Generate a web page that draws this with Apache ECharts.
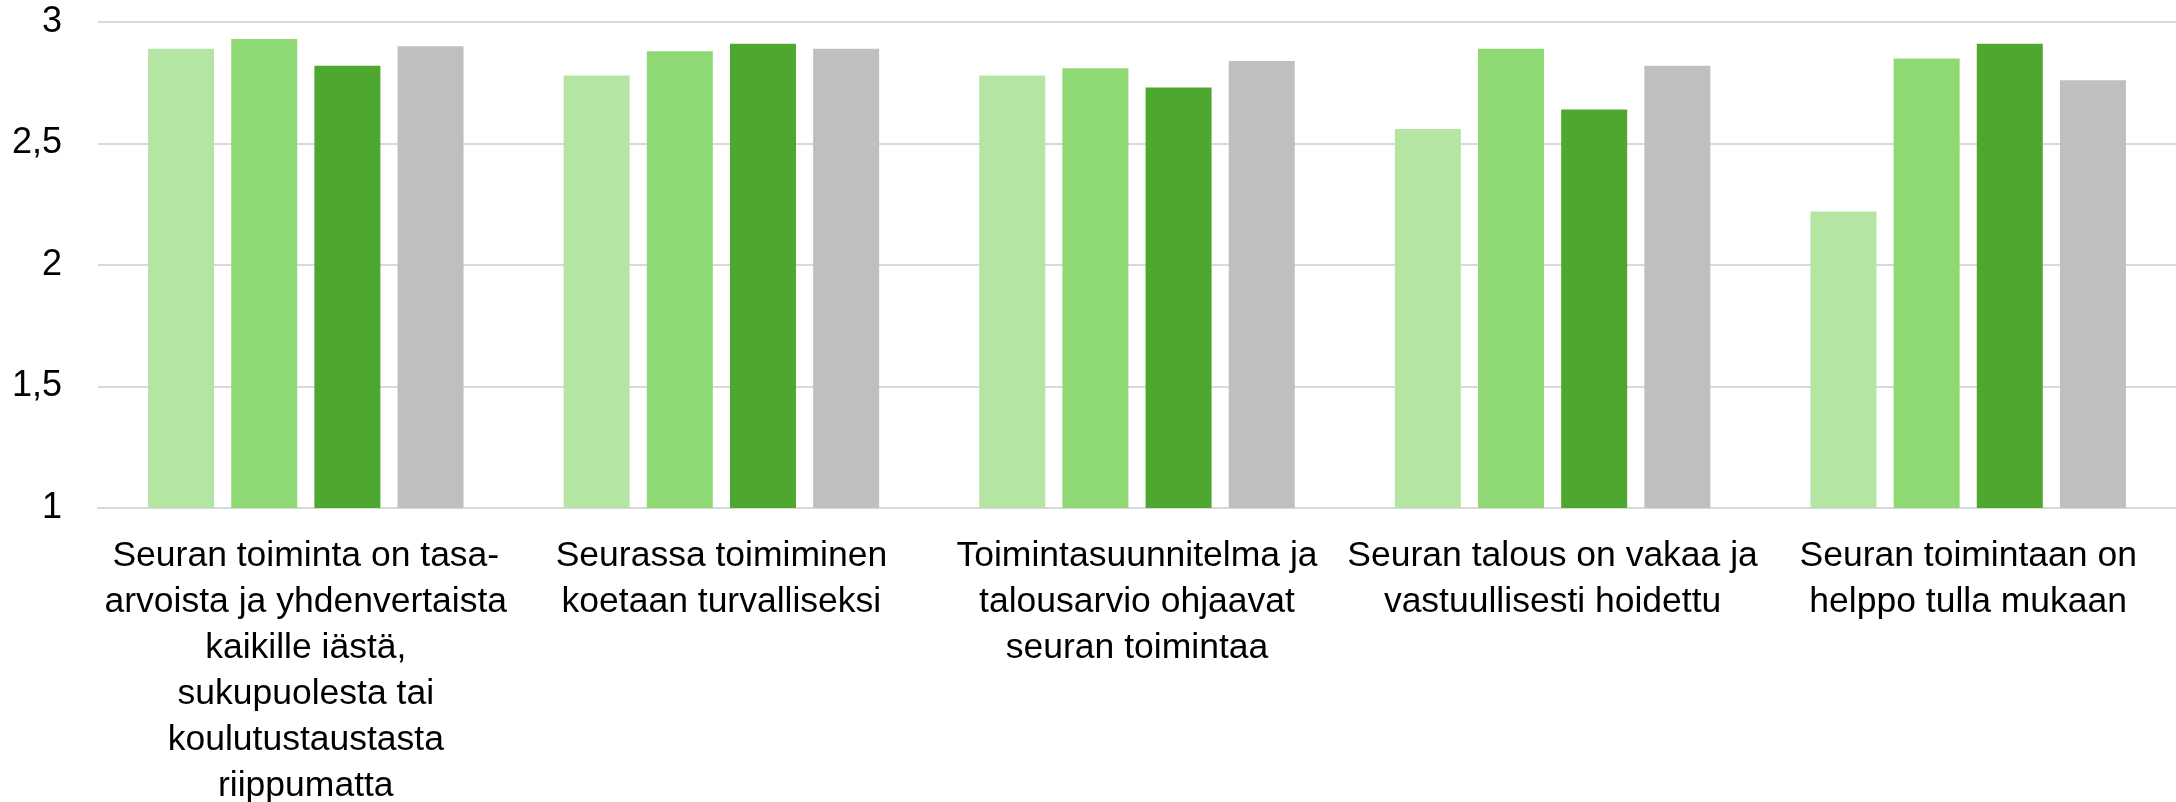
<!DOCTYPE html>
<html>
<head>
<meta charset="utf-8">
<script src="https://cdn.jsdelivr.net/npm/echarts@6/dist/echarts.min.js"></script>
<style>
  html, body { margin: 0; padding: 0; background: #fff; }
  #chart { width: 2176px; height: 802px; }
</style>
</head>
<body>
<div id="chart"></div>
<script>
const categories = [
  'Seuran toiminta on tasa-\narvoista ja yhdenvertaista\nkaikille iästä,\nsukupuolesta tai\nkoulutustaustasta\nriippumatta',
  'Seurassa toimiminen\nkoetaan turvalliseksi',
  'Toimintasuunnitelma ja\ntalousarvio ohjaavat\nseuran toimintaa',
  'Seuran talous on vakaa ja\nvastuullisesti hoidettu',
  'Seuran toimintaan on\nhelppo tulla mukaan'
];

const series1 = [2.89, 2.78, 2.78, 2.56, 2.22];
const series2 = [2.93, 2.88, 2.81, 2.89, 2.85];
const series3 = [2.82, 2.91, 2.73, 2.64, 2.91];
const series4 = [2.90, 2.89, 2.84, 2.82, 2.76];

const colors = ['#B4E5A2', '#8ED973', '#4EA72E', '#BFBFBF'];
const fontFamily = '"Liberation Sans", Arial, sans-serif';

const chart = echarts.init(document.getElementById('chart'));

function barSeries(data, i) {
  return {
    type: 'bar',
    data: data,
    barWidth: 66,
    barGap: '26%',
    itemStyle: { color: colors[i] },
    emphasis: { disabled: true }
  };
}

chart.setOption({
  animation: false,
  textStyle: { fontFamily: fontFamily },
  grid: { left: 98, right: 0, top: 22, bottom: 294, containLabel: false, outerBoundsMode: 'none' },
  xAxis: {
    type: 'category',
    data: categories,
    axisTick: { show: false },
    axisLine: { lineStyle: { color: '#D9D9D9', width: 2 } },
    axisLabel: {
      interval: 0,
      margin: 25,
      fontSize: 35.5,
      lineHeight: 46,
      color: '#000',
      fontFamily: fontFamily,
      align: 'center'
    }
  },
  yAxis: {
    type: 'value',
    min: 1,
    max: 3,
    interval: 0.5,
    axisLine: { show: false },
    axisTick: { show: false },
    splitLine: { lineStyle: { color: '#D9D9D9', width: 2 } },
    axisLabel: {
      margin: 36,
      fontSize: 36,
      color: '#000',
      fontFamily: fontFamily,
      formatter: function (v) { return String(v).replace('.', ','); }
    }
  },
  series: [series1, series2, series3, series4].map(barSeries)
});
</script>
</body>
</html>
